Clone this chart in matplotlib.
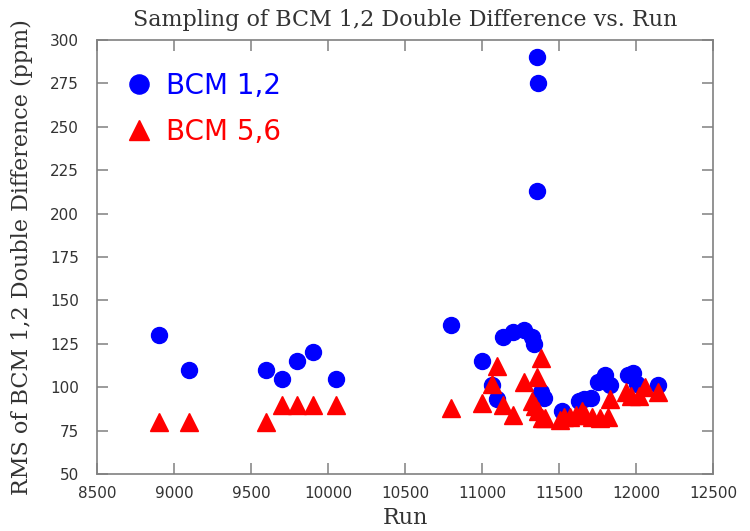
import numpy as np
import matplotlib
matplotlib.use('Agg')
import matplotlib.pyplot as plt

#== data ==#
blue_run = [8900, 9100, 9600, 9700, 9800, 9900, 10050, 10800,
            11000, 11065, 11100, 11135, 11200, 11275, 11325, 11340,
            11357, 11362, 11357, 11380, 11400,
            11520, 11630, 11660, 11710, 11750, 11800, 11830,
            11950, 11980, 12005, 12140]
blue_val = [130, 110, 110, 105, 115, 120, 105, 136,
            115, 101, 93, 129, 132, 133, 129, 125,
            290, 275, 213, 97, 94,
            86, 92, 93, 94, 103, 107, 101,
            107, 108, 102, 101]

red_run = [8900, 9100, 9600, 9700, 9800, 9900, 10050, 10800,
           11000, 11065, 11100, 11135, 11200, 11270,
           11325, 11345, 11357, 11365, 11383, 11390, 11410,
           11505, 11530, 11570, 11610, 11650, 11670, 11715, 11765, 11820, 11830,
           11935, 11970, 12020, 12060, 12140]
red_val = [80, 80, 80, 90, 90, 90, 90, 88,
           91, 102, 112, 90, 84, 103,
           92, 89, 106, 86, 117, 82, 82,
           81, 83, 83, 84, 86, 84, 83, 82, 83, 93,
           97, 95, 95, 100, 97]

x_ticks = np.arange(8500, 12501, 500)
y_ticks = np.arange(50, 301, 25)

fig = plt.figure(figsize=(7.5, 5.31), dpi=100)
ax = fig.add_axes([0.1293, 0.1074, 0.8214, 0.8172])

ax.plot(blue_run, blue_val, 'o', color='#0000ff', markersize=11.5,
        linestyle='none', label='BCM 1,2')
ax.plot(red_run, red_val, '^', color='#ff0000', markersize=12.5,
        linestyle='none', label='BCM 5,6')

ax.set_xlim(8500, 12500)
ax.set_ylim(50, 300)
ax.set_xticks(x_ticks)
ax.set_yticks(y_ticks)

for s in ax.spines.values():
    s.set_color('#808080')
    s.set_linewidth(1.2)
ax.tick_params(axis='both', direction='in', length=8, width=1.1,
               color='#808080', top=True, right=True,
               labelsize=11, labelcolor='#333333')
ax.tick_params(axis='x', pad=9)
ax.tick_params(axis='y', pad=13)

ax.set_title('Sampling of BCM 1,2 Double Difference vs. Run',
             family='DejaVu Serif', fontsize=16, color='#333333', pad=10)
ax.set_xlabel('Run', family='DejaVu Serif', fontsize=16, color='#333333',
              labelpad=4)
ax.set_ylabel('RMS of BCM 1,2 Double Difference (ppm)', family='DejaVu Serif',
              fontsize=16, color='#333333', labelpad=12)

leg = ax.legend(loc='upper left', bbox_to_anchor=(0.0, 0.985), frameon=False,
                fontsize=20, markerscale=1.2, handlelength=1.2,
                handletextpad=0.4, labelspacing=0.65,
                labelcolor='markerfacecolor')

fig.savefig('out.png', dpi=100)
